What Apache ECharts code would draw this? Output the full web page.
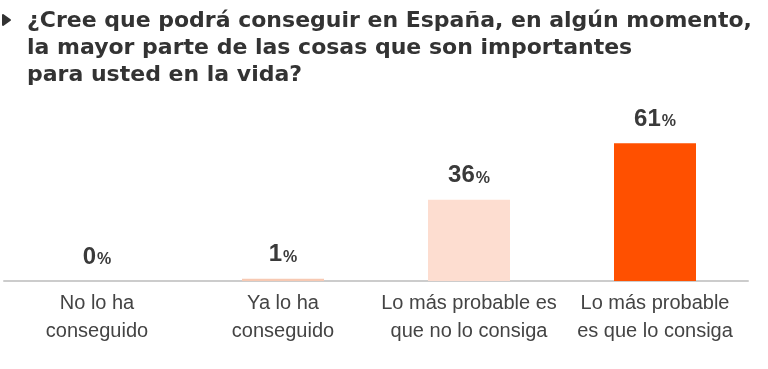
<!DOCTYPE html>
<html>
<head>
<meta charset="utf-8">
<script src="https://cdn.jsdelivr.net/npm/echarts@6/dist/echarts.min.js"></script>
<style>html,body{margin:0;padding:0;background:#fff;}#c{width:768px;height:369px;}</style>
</head>
<body>
<div id="c"></div>
<script>
const titleLines = [
  '¿Cree que podrá conseguir en España, en algún momento,',
  'la mayor parte de las cosas que son importantes',
  'para usted en la vida?'
];
const categories = [
  'No lo ha\nconseguido',
  'Ya lo ha\nconseguido',
  'Lo más probable es\nque no lo consiga',
  'Lo más probable\nes que lo consiga'
];
const values = [0, 1, 36, 61];
const barColors = ['#F7C9B3', '#F7C9B3', '#FDDDD0', '#FF5000'];

const chart = echarts.init(document.getElementById('c'), null, {renderer: 'canvas'});
chart.setOption({
  animation: false,
  backgroundColor: '#fff',
  title: {
    text: titleLines.join('\n'),
    left: 27, top: 8, padding: 0,
    textStyle: {fontFamily: 'DejaVu Sans', fontWeight: 'bold', fontSize: 22, color: '#333', lineHeight: 27}
  },
  graphic: [{
    type: 'polygon',
    shape: {points: [[3, 15], [10, 20], [3, 25]]},
    style: {fill: '#333', stroke: '#333', lineWidth: 2, lineJoin: 'round'}
  }],
  grid: {left: 4, right: 20, top: 55, bottom: 88},
  xAxis: {
    type: 'category',
    data: categories,
    axisLine: {lineStyle: {color: '#cccccc', width: 2}},
    axisTick: {show: false},
    axisLabel: {
      interval: 0, margin: 8,
      fontFamily: 'Liberation Sans', fontSize: 20, color: '#444', lineHeight: 28
    }
  },
  yAxis: {type: 'value', min: 0, max: 100, show: false, splitLine: {show: false}},
  series: [{
    type: 'bar',
    barWidth: 82,
    data: values.map((v, i) => ({value: v, itemStyle: {color: barColors[i]}})),
    label: {
      show: true, position: 'top', distance: 12,
      formatter: p => '{v|' + p.value + '}{p|%}',
      rich: {
        v: {fontFamily: 'Liberation Sans', fontWeight: 'bold', fontSize: 24, color: '#3a3a3a'},
        p: {fontFamily: 'Liberation Sans', fontWeight: 'bold', fontSize: 16, color: '#3a3a3a', padding: [5, 0, 0, 1]}
      }
    }
  }]
});
</script>
</body>
</html>
